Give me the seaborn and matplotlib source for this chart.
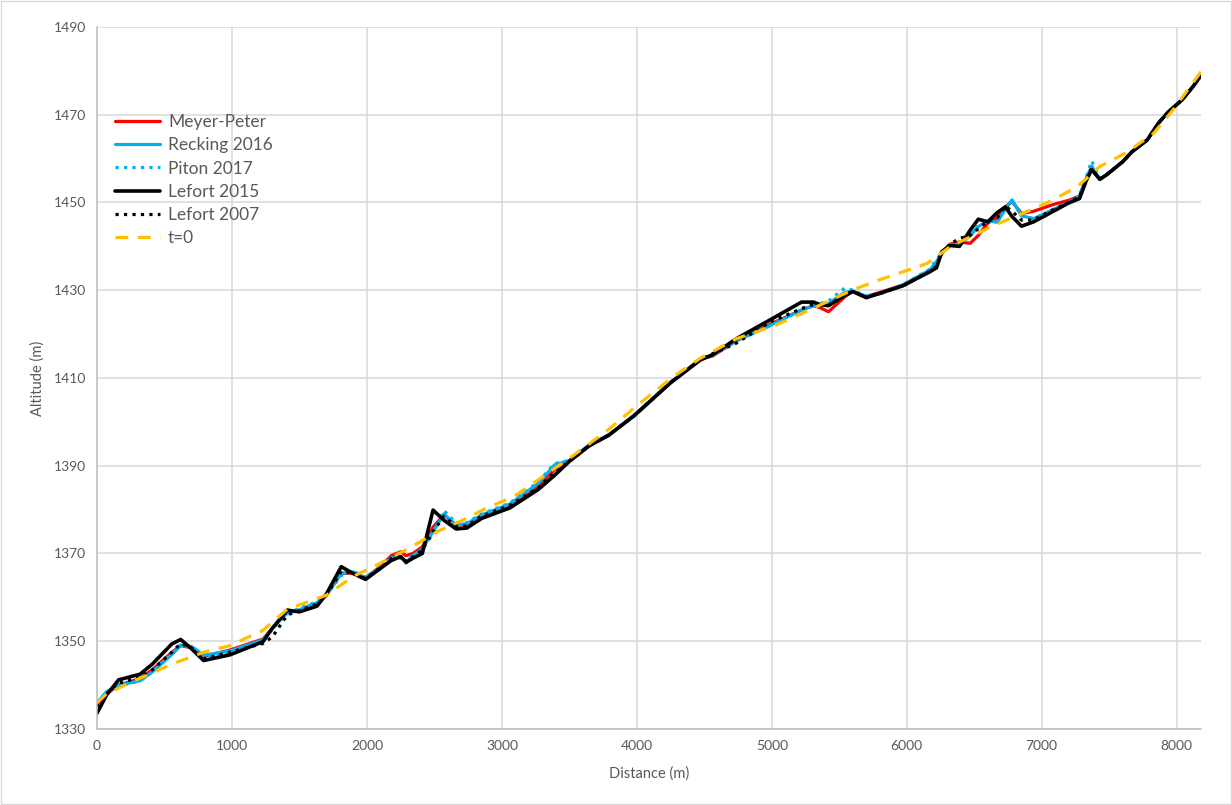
import matplotlib
matplotlib.use("Agg")
import matplotlib.pyplot as plt
import seaborn as sns
import pandas as pd
from matplotlib.patches import Rectangle

# ---------------- data ----------------
distance = [0, 70, 160, 320, 410, 555, 620, 700, 790, 985, 1230, 1300, 1410, 1500, 1630,
            1700, 1810, 1900, 1990, 2100, 2180, 2250, 2290, 2340, 2410, 2490, 2570, 2660,
            2740, 2850, 3060, 3270, 3390, 3500, 3650, 3790, 3980, 4250, 4470, 4560, 4740,
            4990, 5220, 5310, 5360, 5420, 5540, 5600, 5700, 5800, 5970, 6170, 6220, 6260,
            6320, 6390, 6470, 6530, 6600, 6670, 6730, 6780, 6850, 6940, 7080, 7200, 7280,
            7330, 7370, 7430, 7480, 7600, 7670, 7780, 7870, 7940, 8040, 8120, 8180]

meyer_peter = [1335.5, 1338.0, 1340.0, 1341.5, 1343.5, 1347.5, 1349.0, 1348.5, 1346.5, 1348.0,
               1350.5, 1353.0, 1356.5, 1357.0, 1358.5, 1360.5, 1365.5, 1365.5, 1364.5, 1367.0,
               1369.5, 1370.4, 1369.5, 1370.0, 1371.5, 1376.0, 1378.8, 1376.5, 1376.5, 1378.5,
               1381.0, 1385.5, 1389.0, 1391.2, 1394.8, 1397.0, 1401.5, 1409.0, 1414.3, 1415.0,
               1418.5, 1422.3, 1425.5, 1426.5, 1426.0, 1425.1, 1428.5, 1429.8, 1428.6, 1429.5,
               1431.2, 1434.4, 1435.5, 1438.5, 1440.5, 1441.0, 1440.7, 1442.5, 1445.3, 1446.5,
               1449.0, 1450.2, 1447.5, 1448.0, 1449.5, 1450.5, 1451.5, 1455.5, 1457.5, 1455.3,
               1456.3, 1459.3, 1461.6, 1464.2, 1468.3, 1470.7, 1473.4, 1476.4, 1479.0]

recking_2016 = [1336.0, 1338.5, 1340.0, 1341.0, 1343.0, 1347.0, 1349.0, 1348.8, 1346.8, 1347.8,
                1350.3, 1353.0, 1356.5, 1357.2, 1358.8, 1360.5, 1365.5, 1365.8, 1364.5, 1366.8,
                1369.0, 1369.3, 1368.0, 1369.5, 1371.0, 1375.0, 1379.0, 1376.5, 1376.8, 1378.8,
                1381.3, 1386.0, 1390.2, 1391.2, 1394.8, 1397.0, 1401.5, 1409.0, 1414.2, 1415.2,
                1418.5, 1422.0, 1425.5, 1426.5, 1426.5, 1427.0, 1429.5, 1429.8, 1428.6, 1429.2,
                1431.2, 1434.6, 1436.5, 1438.5, 1440.3, 1440.5, 1442.5, 1444.5, 1445.8, 1445.5,
                1448.5, 1450.6, 1447.0, 1446.3, 1448.3, 1450.0, 1451.5, 1455.5, 1458.3, 1455.3,
                1456.3, 1459.3, 1461.6, 1464.2, 1468.3, 1470.7, 1473.4, 1476.4, 1479.0]

piton_2017 = [1336.0, 1338.3, 1339.8, 1341.0, 1343.0, 1347.2, 1349.2, 1348.8, 1346.5, 1347.5,
              1350.0, 1352.8, 1356.3, 1357.5, 1359.0, 1360.5, 1365.0, 1366.0, 1364.5, 1366.5,
              1368.8, 1369.0, 1367.8, 1369.3, 1371.0, 1374.5, 1379.8, 1377.0, 1377.0, 1379.0,
              1381.5, 1386.3, 1390.5, 1391.2, 1394.8, 1397.0, 1401.5, 1409.0, 1414.2, 1415.2,
              1418.5, 1422.0, 1425.5, 1426.5, 1427.0, 1427.5, 1430.5, 1430.0, 1428.6, 1429.2,
              1431.2, 1434.8, 1437.0, 1438.5, 1440.3, 1440.5, 1442.3, 1444.8, 1446.0, 1445.5,
              1448.8, 1450.3, 1447.0, 1446.3, 1448.3, 1450.0, 1451.5, 1455.8, 1459.5, 1455.3,
              1456.3, 1459.3, 1461.6, 1464.2, 1468.3, 1470.7, 1473.4, 1476.4, 1479.0]

lefort_2015 = [1333.6, 1337.7, 1341.2, 1342.5, 1344.8, 1349.4, 1350.4, 1348.3, 1345.6, 1346.9,
               1349.9, 1353.0, 1357.1, 1356.7, 1358.0, 1360.8, 1367.0, 1365.4, 1364.1, 1366.6,
               1368.4, 1369.3, 1368.0, 1368.9, 1370.0, 1379.9, 1377.6, 1375.6, 1375.8, 1378.0,
               1380.4, 1384.6, 1387.8, 1391.0, 1394.6, 1396.9, 1401.4, 1408.9, 1414.1, 1415.3,
               1419.0, 1423.3, 1427.3, 1427.3, 1426.7, 1426.5, 1428.8, 1429.7, 1428.3, 1429.3,
               1431.0, 1434.2, 1435.1, 1438.8, 1440.2, 1440.0, 1443.7, 1446.2, 1445.6, 1447.7,
               1449.0, 1446.8, 1444.6, 1445.6, 1447.9, 1449.9, 1450.9, 1455.0, 1457.5, 1455.3,
               1456.3, 1459.3, 1461.6, 1464.2, 1468.3, 1470.7, 1473.4, 1476.4, 1479.0]

lefort_2007 = [1335.0, 1338.0, 1340.5, 1341.8, 1343.5, 1347.5, 1349.5, 1348.5, 1346.0, 1347.5,
               1349.5, 1351.0, 1356.0, 1357.0, 1358.5, 1360.5, 1366.0, 1365.5, 1364.3, 1366.8,
               1368.8, 1369.3, 1368.2, 1369.2, 1370.8, 1375.0, 1378.5, 1376.3, 1376.3, 1378.5,
               1381.0, 1385.0, 1388.5, 1391.0, 1394.6, 1397.0, 1401.4, 1409.0, 1414.2, 1415.5,
               1418.0, 1422.8, 1425.8, 1426.8, 1426.5, 1426.5, 1429.0, 1429.7, 1428.4, 1429.3,
               1431.0, 1434.3, 1435.5, 1438.5, 1440.5, 1441.8, 1442.5, 1444.0, 1445.8, 1446.5,
               1449.2, 1448.0, 1446.0, 1446.0, 1448.3, 1450.0, 1451.3, 1455.3, 1457.8, 1455.3,
               1456.3, 1459.3, 1461.6, 1464.2, 1468.3, 1470.7, 1473.4, 1476.4, 1479.0]

t0_distance = [0, 70, 240, 555, 790, 985, 1230, 1410, 1700, 1900, 2100, 2330, 2520, 2690, 2890,
               3090, 3260, 3500, 3780, 4020, 4270, 4470, 4740, 5010, 5230, 5600, 5800, 6150,
               6320, 6640, 6840, 7030, 7260, 7430, 7630, 7830, 7970, 8180]
t0_altitude = [1336.0, 1338.0, 1340.5, 1344.8, 1347.5, 1349.0, 1352.5, 1357.3, 1360.5, 1364.8,
               1367.8, 1371.5, 1375.0, 1377.3, 1380.4, 1383.0, 1386.6, 1391.7, 1398.0, 1404.2,
               1410.3, 1414.5, 1419.0, 1421.8, 1424.8, 1430.1, 1432.4, 1436.1, 1439.9, 1444.7,
               1447.3, 1449.8, 1453.5, 1458.2, 1461.4, 1465.8, 1471.0, 1479.8]

series_names = ["Meyer-Peter", "Recking 2016", "Piton 2017", "Lefort 2015", "Lefort 2007", "t=0"]
x_ticks = [0, 1000, 2000, 3000, 4000, 5000, 6000, 7000, 8000]
y_ticks = [1330, 1350, 1370, 1390, 1410, 1430, 1450, 1470, 1490]

# ---------------- plot ----------------
sns.set_theme(style="white")
plt.rcParams["font.family"] = ["Lato", "DejaVu Sans"]

fig = plt.figure(figsize=(12.32, 8.05), dpi=100)
ax = fig.add_axes([97 / 1232, 1 - 729 / 805, 1104 / 1232, 702 / 805])

styles = [
    (distance, meyer_peter, "#FF0000", "-", None),
    (distance, recking_2016, "#00B0F0", "-", None),
    (distance, piton_2017, "#00B0F0", ":", None),
    (distance, lefort_2015, "#000000", "-", None),
    (distance, lefort_2007, "#000000", ":", None),
    (t0_distance, t0_altitude, "#FFC000", "--", (4, 3)),
]

for name, (xs, ys, col, ls, dash) in zip(series_names, styles):
    lw = 2.6 if name == "Lefort 2015" else 2.3
    sns.lineplot(x=xs, y=ys, ax=ax, color=col, linestyle=ls, linewidth=lw,
                 label=name, sort=False, estimator=None)
    if dash is not None:
        ax.lines[-1].set_dashes(dash)

ax.set_xlim(0, 8180)
ax.set_ylim(1330, 1490)
ax.set_xticks(x_ticks)
ax.set_yticks(y_ticks)
ax.tick_params(axis="both", length=0, labelsize=10, labelcolor="#595959", pad=8)
ax.grid(True, color="#d9d9d9", linewidth=1.1)
ax.set_axisbelow(True)
for s in ["top", "right"]:
    ax.spines[s].set_visible(False)
for s in ["left", "bottom"]:
    ax.spines[s].set_color("#bfbfbf")
    ax.spines[s].set_linewidth(1.1)

ax.set_xlabel("Distance (m)", fontsize=10.5, color="#595959", labelpad=10)
ax.set_ylabel("Altitude (m)", fontsize=10.5, color="#595959", labelpad=6)

leg = ax.legend(loc="upper left", bbox_to_anchor=(0.01, 0.886), frameon=False,
                fontsize=12.5, handlelength=2.6, handletextpad=0.45, labelspacing=0.42,
                borderaxespad=0)
for t in leg.get_texts():
    t.set_color("#595959")

fig.patches.append(Rectangle((0.001, 0.001), 0.998, 0.998, transform=fig.transFigure,
                             fill=False, edgecolor="#d9d9d9", linewidth=1))

fig.savefig("out.png", dpi=100)
